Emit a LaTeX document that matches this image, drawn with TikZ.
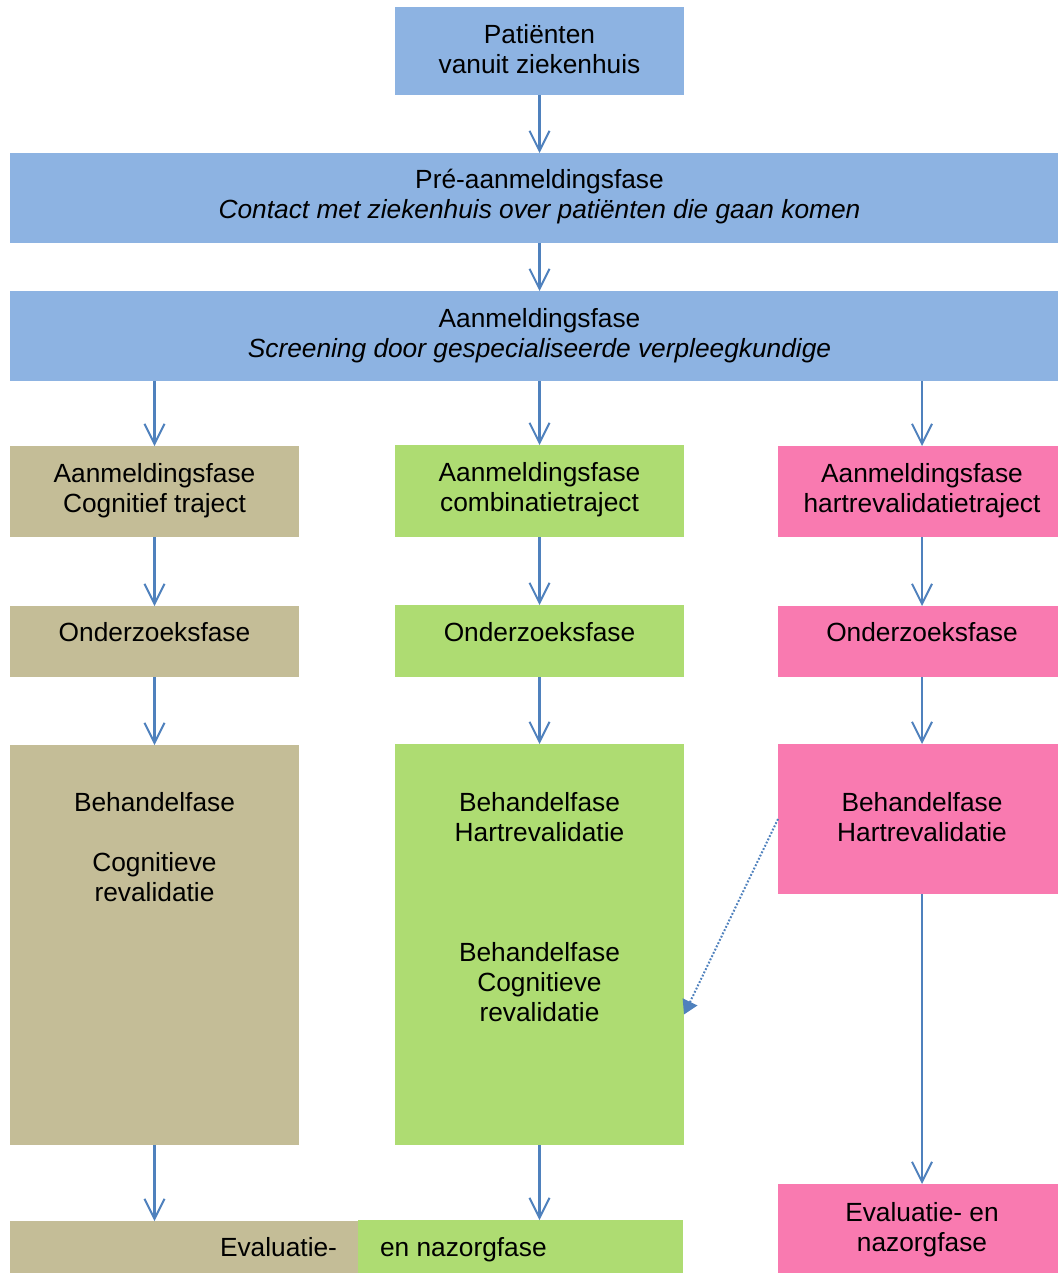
\documentclass[tikz,border=0pt]{standalone}
\usepackage{fontspec}
\setmainfont{Liberation Sans}
\usetikzlibrary{arrows.meta}
\definecolor{cblue}{HTML}{8DB3E2}
\definecolor{ctan}{HTML}{C4BD97}
\definecolor{cgreen}{HTML}{AEDC72}
\definecolor{cpink}{HTML}{F97AB0}
\definecolor{cline}{HTML}{4F81BD}
\tikzset{
  box/.style={draw=none, inner sep=0pt, outer sep=0pt, rectangle},
  txt/.style={inner sep=0pt, outer sep=0pt, align=center, font=\fontsize{26.3pt}{30pt}\selectfont},
  arr/.style={draw=cline, line width=2.2pt, -{Straight Barb[length=20pt,width=20pt,line width=2pt]}},
  dotarr/.style={draw=cline, line width=2pt, dash pattern=on 1.8pt off 1.8pt, -{Triangle[length=14pt,width=16pt]}}
}
% box macro: name, color, x1, y1, x2, y2
\newcommand\mybox[6]{%
  \node[box, fill=#2, minimum width=#5pt-#3pt, minimum height=#6pt-#4pt] (#1) at ({(#3+#5)/2},{(#4+#6)/2}) {};}
\begin{document}
\begin{tikzpicture}[x=1pt,y=-1pt]
\useasboundingbox (0,0) rectangle (1058,1274);
\fill[white] (0,0) rectangle (1058,1274);
% boxes
\mybox{top}{cblue}{395}{7}{684}{95}
\mybox{pre}{cblue}{10}{153}{1058}{243}
\mybox{aan}{cblue}{10}{291}{1058}{381}
\mybox{t1}{ctan}{10}{446}{299}{537}
\mybox{g1}{cgreen}{395}{445}{684}{537}
\mybox{p1}{cpink}{778}{446}{1058}{537}
\mybox{t2}{ctan}{10}{606}{299}{677}
\mybox{g2}{cgreen}{395}{605}{684}{677}
\mybox{p2}{cpink}{778}{606}{1058}{677}
\mybox{t3}{ctan}{10}{745}{299}{1145}
\mybox{g3}{cgreen}{395}{744}{684}{1145}
\mybox{p3}{cpink}{778}{744}{1058}{894}
\mybox{t4}{ctan}{10}{1221}{358}{1273}
\mybox{g4}{cgreen}{358}{1220}{683}{1273}
\mybox{p4}{cpink}{778}{1184}{1058}{1273}
% texts
\node[txt] (topt) at (539.5,49.5) {Patiënten\\vanuit ziekenhuis};
\node[txt] (pret) at (539.5,197) {Pré-aanmeldingsfase\\\itshape Contact met ziekenhuis over patiënten die gaan komen};
\node[txt] (aant) at (539.5,335.5) {Aanmeldingsfase\\\itshape Screening door gespecialiseerde verpleegkundige};
\node[txt] (t1t) at (154.5,491) {Aanmeldingsfase\\Cognitief traject};
\node[txt] (g1t) at (539.5,490) {Aanmeldingsfase\\combinatietraject};
\node[txt] (p1t) at (922,491) {Aanmeldingsfase\\hartrevalidatietraject};
\node[txt] (t2t) at (154.5,632) {Onderzoeksfase};
\node[txt] (g2t) at (539.5,632) {Onderzoeksfase};
\node[txt] (p2t) at (922,632) {Onderzoeksfase};
\node[txt] (t3t) at (154.5,847.5) {Behandelfase\\[30pt]Cognitieve\\revalidatie};
\node[txt] (g3t) at (539.5,907.5) {Behandelfase\\Hartrevalidatie\\[90pt]Behandelfase\\Cognitieve\\revalidatie};
\node[txt] (p3t) at (922,817) {Behandelfase\\Hartrevalidatie};
\node[txt, anchor=base east] (t4t) at (337,1256.4) {Evaluatie-};
\node[txt, anchor=base west] (g4t) at (380,1256.4) {en nazorgfase};
\node[txt] (p4t) at (922,1230) {Evaluatie- en\\nazorgfase};
% arrows
\draw[arr] (top.south) -- (top.south |- pre.north);
\draw[arr] (top.south |- aan.north) ++(0,-48) -- (top.south |- aan.north);
\draw[arr] (t1.north |- aan.south) -- (t1.north);
\draw[arr] (g1.north |- aan.south) -- (g1.north);
\draw[arr] ([xshift=4pt]p1.north |- aan.south) -- ([xshift=4pt]p1.north);
\draw[arr] (t1.south) -- (t2.north);
\draw[arr] (g1.south) -- (g2.north);
\draw[arr] ([xshift=4pt]p1.south) -- ([xshift=4pt]p2.north);
\draw[arr] (t2.south) -- (t3.north);
\draw[arr] (g2.south) -- (g3.north);
\draw[arr] ([xshift=4pt]p2.south) -- ([xshift=4pt]p3.north);
\draw[arr] (t3.south) -- (t3.south |- t4.north);
\draw[arr] (g3.south) -- (g3.south |- g4.north);
\draw[arr] ([xshift=4pt]p3.south) -- ([xshift=4pt]p4.north);
\draw[dotarr] (p3.west) -- ([yshift=-70pt]g3.east);
\end{tikzpicture}
\end{document}
